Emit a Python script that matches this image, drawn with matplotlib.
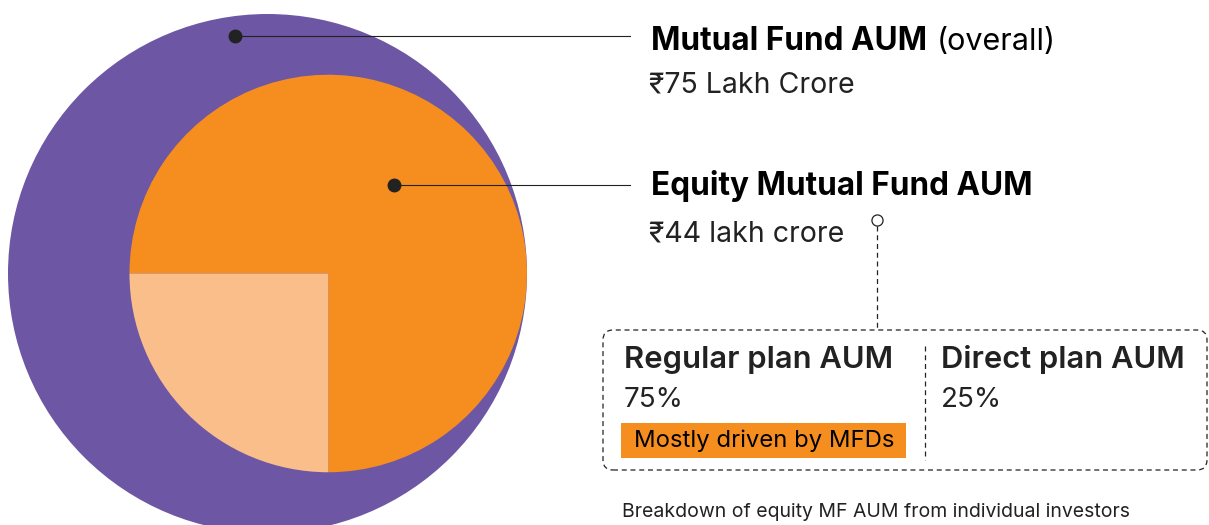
import matplotlib.pyplot as plt
import numpy as np
from matplotlib.patches import Circle, FancyBboxPatch, Rectangle

# --- data ---
total_aum = 75          # ₹ lakh crore, all mutual funds
equity_aum = 44         # ₹ lakh crore, equity mutual funds
plan_labels = ["Regular plan AUM", "Direct plan AUM"]
plan_share = [75, 25]   # % of equity MF AUM from individual investors

PURPLE = "#6D56A3"
ORANGE = "#F68E1F"
LIGHT = "#F9BE8A"
INK = "#222222"

plt.rcParams["font.family"] = ["Inter", "DejaVu Sans"]

W, H = 1209, 525
fig = plt.figure(figsize=(W / 100, H / 100), dpi=100)
ax = fig.add_axes([0, 0, 1, 1])


def Y(y):
    # pixel row (from top) -> data y
    return H - y


# circle areas proportional to AUM
k = 259.5 / np.sqrt(total_aum)
r_out = k * np.sqrt(total_aum)
r_in = k * np.sqrt(equity_aum)
c_out = (267.5, Y(273.5))
c_in = (c_out[0] + r_out - r_in, Y(273.5))

ax.add_patch(Circle(c_out, r_out, color=PURPLE, lw=0))
ax.pie(plan_share, colors=[ORANGE, LIGHT], radius=r_in, center=c_in,
       startangle=270, counterclock=True, frame=True,
       wedgeprops=dict(linewidth=0))

# leader lines
ax.plot([235, 630], [Y(36), Y(36)], color=INK, lw=0.8)
ax.plot([235], [Y(36)], "o", color=INK, ms=9)
ax.plot([394, 630], [Y(185), Y(185)], color=INK, lw=0.8)
ax.plot([394], [Y(185)], "o", color=INK, ms=9)

# right-hand labels
ax.text(651, Y(49.5), "Mutual Fund AUM", fontsize=22.7, fontweight="bold",
        color="black", va="baseline")
ax.text(937, Y(49.5), "(overall)", fontsize=22, color="black",
        va="baseline")
ax.text(649, Y(92.5), f"₹{total_aum} Lakh Crore", fontsize=20.5, color=INK,
        va="baseline")
ax.text(651, Y(195), "Equity Mutual Fund AUM", fontsize=22.7,
        fontweight="bold", color="black", va="baseline")
ax.text(649, Y(241), f"₹{equity_aum} lakh crore", fontsize=20.5, color=INK,
        va="baseline")

# connector to breakdown box
ax.plot([877, 877], [Y(226), Y(328)], color=INK, lw=0.9, ls=(0, (4, 3)))
ax.plot([877], [Y(220)], "o", mfc="white", mec=INK, ms=8, mew=0.9)

box = FancyBboxPatch((603, Y(470)), 604, 140,
                     boxstyle="round,pad=0,rounding_size=10",
                     fill=False, ec=INK, lw=0.9, ls=(0, (4, 3)))
ax.add_patch(box)
ax.plot([925, 925], [Y(346), Y(460)], color=INK, lw=0.9, ls=(0, (4, 3)))

ax.text(624, Y(368.5), plan_labels[0], fontsize=22.3, fontweight="semibold",
        color=INK, va="baseline")
ax.text(624, Y(407), f"{plan_share[0]}%", fontsize=20, color=INK,
        va="baseline")
ax.text(941, Y(368.5), plan_labels[1], fontsize=22.3, fontweight="semibold",
        color=INK, va="baseline")
ax.text(941, Y(407), f"{plan_share[1]}%", fontsize=20, color=INK,
        va="baseline")

ax.add_patch(Rectangle((621, Y(458)), 285, 35, color=ORANGE, lw=0))
ax.text(634, Y(447), "Mostly driven by MFDs", fontsize=17.2, color="black",
        va="baseline")

ax.text(622, Y(517), "Breakdown of equity MF AUM from individual investors",
        fontsize=14, color=INK, va="baseline")

ax.set_xlim(0, W)
ax.set_ylim(0, H)
ax.set_aspect("equal")
ax.axis("off")

fig.savefig("out.png", dpi=100)
